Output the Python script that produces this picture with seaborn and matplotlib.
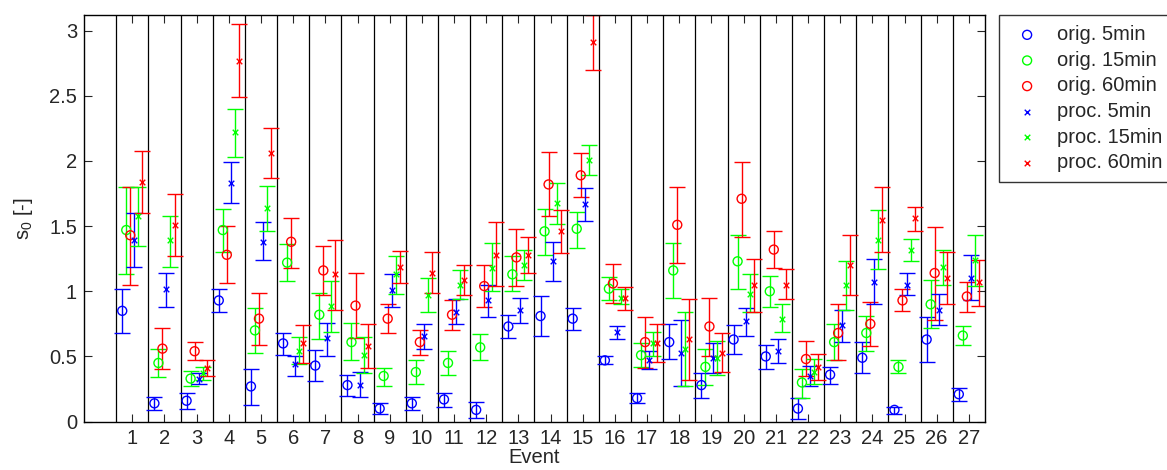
import numpy as np
import pandas as pd
import matplotlib
matplotlib.use("Agg")
import matplotlib.pyplot as plt
import seaborn as sns

# Data: value, lower and upper end of the error bar
events = list(range(1, 28))

orig5 = [0.85, 0.14, 0.16, 0.93, 0.27, 0.60, 0.43, 0.28, 0.10, 0.14, 0.17, 0.09, 0.73, 0.81,
         0.79, 0.47, 0.18, 0.61, 0.28, 0.63, 0.50, 0.10, 0.36, 0.49, 0.09, 0.63, 0.21]
orig5_lo = [0.68, 0.09, 0.10, 0.84, 0.13, 0.51, 0.31, 0.20, 0.06, 0.09, 0.11, 0.03, 0.64, 0.66,
            0.70, 0.44, 0.14, 0.48, 0.18, 0.52, 0.40, 0.02, 0.29, 0.37, 0.06, 0.46, 0.16]
orig5_hi = [1.02, 0.19, 0.22, 1.02, 0.40, 0.68, 0.55, 0.36, 0.14, 0.19, 0.22, 0.15, 0.82, 0.96,
            0.87, 0.50, 0.22, 0.75, 0.37, 0.74, 0.59, 0.18, 0.42, 0.61, 0.11, 0.80, 0.26]

orig15 = [1.47, 0.45, 0.33, 1.47, 0.70, 1.22, 0.82, 0.61, 0.35, 0.38, 0.45, 0.57, 1.13, 1.46,
          1.48, 1.02, 0.51, 1.16, 0.42, 1.23, 1.00, 0.30, 0.61, 0.68, 0.42, 0.90, 0.66]
orig15_lo = [1.13, 0.34, 0.27, 1.30, 0.53, 1.08, 0.63, 0.47, 0.27, 0.29, 0.36, 0.47, 1.00, 1.28,
             1.33, 0.93, 0.42, 0.95, 0.28, 1.02, 0.88, 0.18, 0.47, 0.54, 0.37, 0.72, 0.59]
orig15_hi = [1.80, 0.56, 0.39, 1.63, 0.87, 1.36, 0.99, 0.76, 0.41, 0.47, 0.54, 0.67, 1.27, 1.63,
             1.61, 1.11, 0.60, 1.37, 0.56, 1.43, 1.12, 0.40, 0.75, 0.81, 0.47, 1.09, 0.73]

orig60 = [1.43, 0.56, 0.54, 1.28, 0.79, 1.38, 1.16, 0.89, 0.79, 0.61, 0.82, 1.04, 1.26, 1.82,
          1.89, 1.06, 0.61, 1.51, 0.73, 1.71, 1.32, 0.48, 0.68, 0.75, 0.93, 1.14, 0.96]
orig60_lo = [1.05, 0.40, 0.47, 1.06, 0.59, 1.18, 0.97, 0.64, 0.68, 0.51, 0.70, 0.88, 1.04, 1.58,
             1.72, 0.91, 0.41, 1.22, 0.50, 1.42, 1.18, 0.35, 0.47, 0.58, 0.85, 0.78, 0.84]
orig60_hi = [1.80, 0.72, 0.61, 1.50, 0.99, 1.56, 1.35, 1.14, 0.90, 0.70, 0.93, 1.20, 1.48, 2.07,
             2.06, 1.21, 0.80, 1.80, 0.95, 1.99, 1.46, 0.62, 0.90, 0.92, 1.02, 1.49, 1.07]

proc5 = [1.39, 1.02, 0.33, 1.83, 1.38, 0.44, 0.64, 0.28, 1.01, 0.66, 0.84, 0.93, 0.86, 1.23,
         1.67, 0.69, 0.47, 0.53, 0.49, 0.77, 0.54, 0.35, 0.74, 1.07, 1.05, 0.86, 1.10]
proc5_lo = [1.19, 0.88, 0.29, 1.68, 1.24, 0.35, 0.50, 0.19, 0.88, 0.56, 0.75, 0.80, 0.76, 1.08,
            1.54, 0.63, 0.40, 0.27, 0.37, 0.66, 0.45, 0.27, 0.61, 0.90, 0.97, 0.74, 0.93]
proc5_hi = [1.60, 1.14, 0.37, 1.99, 1.53, 0.50, 0.76, 0.38, 1.13, 0.75, 0.94, 1.05, 0.95, 1.38,
            1.79, 0.73, 0.54, 0.78, 0.60, 0.87, 0.63, 0.43, 0.86, 1.25, 1.14, 0.98, 1.28]

proc15 = [1.58, 1.39, 0.37, 2.22, 1.64, 0.54, 0.89, 0.51, 1.13, 0.97, 1.05, 1.18, 1.20, 1.68,
          2.01, 0.95, 0.60, 0.56, 0.49, 0.98, 0.79, 0.38, 1.05, 1.39, 1.32, 1.19, 1.24]
proc15_lo = [1.35, 1.19, 0.32, 2.03, 1.46, 0.44, 0.69, 0.37, 0.98, 0.84, 0.94, 1.00, 1.09, 1.52,
             1.89, 0.90, 0.50, 0.27, 0.36, 0.84, 0.69, 0.29, 0.86, 1.17, 1.23, 1.05, 1.04]
proc15_hi = [1.80, 1.58, 0.42, 2.40, 1.81, 0.65, 1.08, 0.65, 1.27, 1.10, 1.16, 1.37, 1.32, 1.83,
             2.12, 1.02, 0.69, 0.84, 0.62, 1.13, 0.90, 0.48, 1.23, 1.62, 1.40, 1.32, 1.43]

proc60 = [1.84, 1.51, 0.41, 2.77, 2.06, 0.60, 1.13, 0.58, 1.19, 1.14, 1.09, 1.28, 1.28, 1.46,
          2.91, 0.95, 0.60, 0.63, 0.53, 1.05, 1.05, 0.42, 1.20, 1.55, 1.56, 1.10, 1.07]
proc60_lo = [1.60, 1.27, 0.35, 2.49, 1.87, 0.45, 0.86, 0.41, 1.06, 0.99, 0.97, 1.04, 1.14, 1.29,
             2.70, 0.86, 0.46, 0.32, 0.38, 0.84, 0.94, 0.32, 0.97, 1.30, 1.46, 0.90, 0.89]
proc60_hi = [2.08, 1.75, 0.47, 3.05, 2.25, 0.74, 1.39, 0.75, 1.31, 1.30, 1.20, 1.53, 1.42, 1.62,
             3.12, 1.03, 0.75, 0.94, 0.68, 1.25, 1.17, 0.52, 1.43, 1.80, 1.65, 1.30, 1.24]

labels = ["orig. 5min", "orig. 15min", "orig. 60min", "proc. 5min", "proc. 15min", "proc. 60min"]
colors = ["#0000ff", "#00ff00", "#ff0000", "#0000ff", "#00ff00", "#ff0000"]
markers = ["o", "o", "o", "x", "x", "x"]
series = [(orig5, orig5_lo, orig5_hi), (orig15, orig15_lo, orig15_hi), (orig60, orig60_lo, orig60_hi),
          (proc5, proc5_lo, proc5_hi), (proc15, proc15_lo, proc15_hi), (proc60, proc60_lo, proc60_hi)]

sns.set_style("ticks")
plt.rcParams['font.family'] = ['Liberation Sans', 'DejaVu Sans']
plt.rcParams['mathtext.fontset'] = 'custom'
plt.rcParams['mathtext.rm'] = 'Liberation Sans'
plt.rcParams['mathtext.it'] = 'Liberation Sans'

fig = plt.figure(figsize=(11.67, 4.7), dpi=100)
ax = fig.add_axes([0.072, 0.103, 0.772, 0.865])

ev = np.array(events, dtype=float)
for k, (vals, lo, hi) in enumerate(series):
    df = pd.DataFrame({'x': ev + (k - 2.5) * 0.125, 'y': vals, 'lo': lo, 'hi': hi})
    yerr = [df['y'] - df['lo'], df['hi'] - df['y']]
    ax.errorbar(df['x'], df['y'], yerr=yerr, fmt='none', ecolor=colors[k],
                elinewidth=1.0, capsize=5.7, capthick=1.0, zorder=2)
    if markers[k] == 'o':
        sns.scatterplot(data=df, x='x', y='y', ax=ax, marker='o', s=42, color=colors[k],
                        facecolors='none', edgecolors=colors[k], linewidth=1.0,
                        label=labels[k], zorder=3)
    else:
        sns.scatterplot(data=df, x='x', y='y', ax=ax, marker='x', s=16, color=colors[k],
                        linewidth=1.0, label=labels[k], zorder=3)

# separators between events
for b in range(0, 27):
    ax.axvline(b + 0.5, color='black', lw=0.9, zorder=1)

ax.set_xlim(-0.5, 27.5)
ax.set_ylim(0, 3.12)
ax.set_xticks(events)
ax.set_xticklabels([str(e) for e in events])
ax.set_yticks([0, 0.5, 1, 1.5, 2, 2.5, 3])
ax.set_yticklabels(['0', '0.5', '1', '1.5', '2', '2.5', '3'])
ax.tick_params(direction='in', top=True, right=True, length=6, width=0.8, labelsize=14.5, pad=5)
for sp in ax.spines.values():
    sp.set_linewidth(1.0)
    sp.set_color('black')

ax.set_xlabel('Event', fontsize=14.5, labelpad=0)
ax.set_ylabel(r'$\mathrm{s_0}$ [-]', fontsize=14.5, labelpad=10)

leg = ax.legend(loc='upper left', bbox_to_anchor=(1.0155, 1.0), borderaxespad=0,
                fontsize=14.5, frameon=True, fancybox=False, edgecolor='black',
                handletextpad=0.6, labelspacing=0.33, borderpad=0.5, handlelength=1.8)
leg.get_frame().set_linewidth(1.0)

fig.savefig('out.png', dpi=100)
